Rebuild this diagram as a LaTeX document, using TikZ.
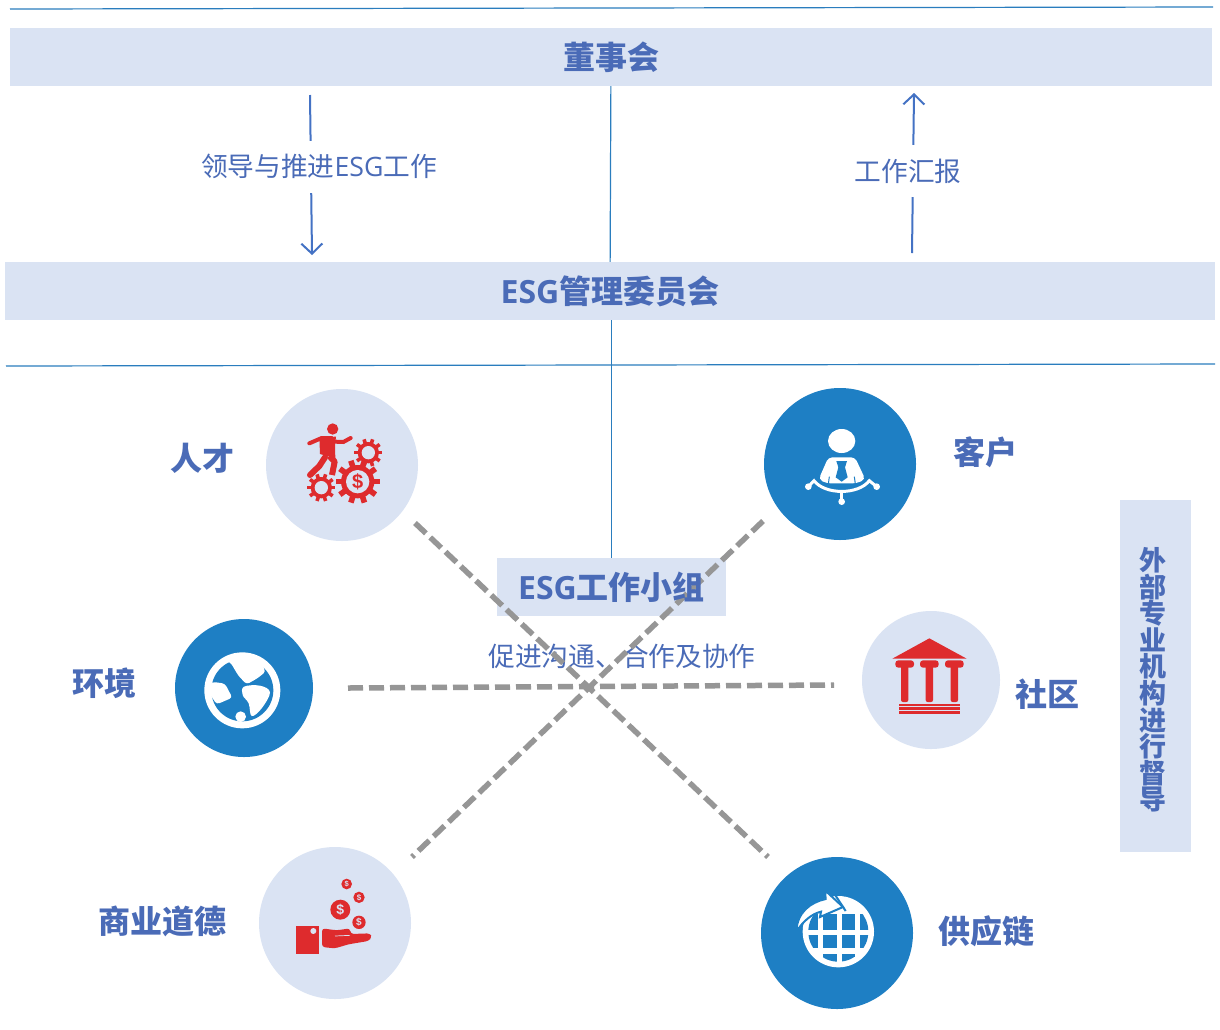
\documentclass[tikz,border=0pt]{standalone}
\usepackage{fontspec}
\usetikzlibrary{arrows.meta}
\newfontfamily\cjk{Noto Sans CJK SC}
\newfontfamily\lat{Open Sans}
\newfontfamily\icn{Liberation Sans}
\definecolor{pale}{HTML}{DAE3F3}
\definecolor{ink}{HTML}{4A6BB7}
\definecolor{disc}{HTML}{1E7FC4}
\definecolor{redi}{HTML}{DE2B2D}
\definecolor{rule}{HTML}{2A7DBE}
\definecolor{arrowc}{HTML}{4472C4}
\definecolor{dashc}{HTML}{969696}
\newcommand{\lt}[1]{{\lat #1}}
\newcommand{\gear}[6]{% x y outer body hole colour-of-hole
  \foreach \a in {0,36,...,324}{
    \draw[redi,line width=#3*0.085pt] ({#1+#3*0.7*cos(\a)},{#2+#3*0.7*sin(\a)}) -- ({#1+#3*cos(\a)},{#2+#3*sin(\a)});
  }
  \fill[redi] (#1,#2) circle[radius=#4];
  \fill[#6] (#1,#2) circle[radius=#5];
}
\tikzset{
  band/.style={fill=pale,inner sep=0pt,text=ink,font=\cjk\bfseries\fontsize{32}{32}\selectfont},
  bigt/.style={inner sep=0pt,text=ink,font=\cjk\bfseries\fontsize{32}{32}\selectfont},
  thin label/.style={fill=white,inner sep=0pt,text=ink,font=\cjk\fontsize{26.7}{27}\selectfont},
  note/.style={inner sep=0pt,text=ink,font=\cjk\fontsize{26.7}{27}\selectfont},
  lightdisc/.style={circle,fill=pale,inner sep=0pt},
  bluedisc/.style={circle,fill=disc,inner sep=0pt},
  hair/.style={rule,line width=1.2pt},
  flow/.style={arrowc,line width=2pt,-{Straight Barb[length=10pt,width=21pt,line width=2pt]}},
  crossing/.style={dashc,line width=5.5pt,dash pattern=on 15pt off 6pt},
  zoomed/.style={x=0.33333pt,y=-0.33333pt}
}
\begin{document}
\begin{tikzpicture}[x=1pt,y=-1pt]
\useasboundingbox (0,0) rectangle (1220,1029);
\fill[white] (0,0) rectangle (1220,1029);

% rules
\coordinate (r1a) at (10,9); \coordinate (r1b) at (1213,7);
\coordinate (r2a) at (6,366); \coordinate (r2b) at (1215,364);
\draw[hair] (r1a) -- (r1b);
\draw[hair] (r2a) -- (r2b);

% bands
\node[band,minimum width=1202pt,minimum height=58pt] (board) at (611,57) {董事会};
\node[band,minimum width=1210pt,minimum height=58pt] (committee) at (610,291) {\lt{ESG}管理委员会};
\fill[pale] (497,558) rectangle (726,616);
\node[inner sep=0pt,minimum width=229pt,minimum height=58pt] (group) at (611.5,587) {};
\fill[pale] (1120,500) rectangle (1191,852);
\node[inner sep=0pt,text=ink,align=center,font=\cjk\bfseries\fontsize{27}{26.6}\selectfont] (ext) at (1153,680)
 {外\\部\\专\\业\\机\\构\\进\\行\\督\\导};

% vertical links
\draw[hair] (board) -- (committee);
\draw[hair] (committee.south -| group.north) -- (group.north);

% arrows with labels
\coordinate (a1s) at (310,95); \coordinate (a1e) at (312,255);
\coordinate (a2s) at (912,253); \coordinate (a2e) at (914,93);
\draw[flow] (a1s) -- (a1e);
\draw[flow] (a2s) -- (a2e);
\node[thin label,minimum height=52pt] (lead) at (319,166.5) {领导与推进\lt{ESG}工作};
\node[thin label,minimum height=52pt] (report) at (908,171) {工作汇报};

% centre label
\node[note] (promote) at (622,656) {促进沟通、合作及协作};

% crossing dashed lines
\coordinate (c1a) at (415,523); \coordinate (c1b) at (768,857);
\coordinate (c2a) at (763,521); \coordinate (c2b) at (412,857);
\coordinate (c3a) at (348,688); \coordinate (c3b) at (834,685);
\draw[crossing] (c1a) -- (c1b);
\draw[crossing] (c2a) -- (c2b);
\draw[crossing] (c3a) -- (c3b);
\node[bigt] (grouplabel) at (group) {\lt{ESG}工作小组};

% discs
\node[lightdisc,minimum size=152pt] (talent) at (342,465) {};
\node[bluedisc,minimum size=152pt] (client) at (840,464) {};
\node[bluedisc,minimum size=138pt] (envir) at (244,688) {};
\node[lightdisc,minimum size=138pt] (commu) at (931,680) {};
\node[lightdisc,minimum size=152pt] (ethic) at (335,923) {};
\node[bluedisc,minimum size=152pt] (chain) at (837,933) {};

% labels
\node[bigt] (l1) at (202,458) {人才};
\node[bigt] (l2) at (985,452) {客户};
\node[bigt] (l3) at (104,683) {环境};
\node[bigt] (l4) at (1047,694) {社区};
\node[bigt] (l5) at (162,921) {商业道德};
\node[bigt] (l6) at (986,931) {供应链};

% talent icon
\begin{scope}[shift={(260,380)},zoomed]
  \gear{325}{218}{42}{32}{20}{pale}
  \gear{184}{323}{42}{32}{20}{pale}
  \gear{293}{305}{66}{50}{35}{pale}
  \node[text=redi,inner sep=0pt,font=\icn\bfseries\fontsize{20}{20}\selectfont] (dollar1) at (293,305) {\$};
  \fill[redi] (218,147) circle[radius=17];
  \draw[redi,line width=4pt,line cap=round,line join=round] (148,190) -- (185,174) -- (215,174);
  \draw[redi,line width=4pt,line cap=round,line join=round] (225,185) -- (250,186) -- (272,174);
  \fill[redi] (178,172) -- (228,170) -- (225,195) -- (226,235) -- (180,222) -- cycle;
  \draw[redi,line width=6pt,line cap=round,line join=round] (195,232) -- (178,258) -- (150,285);
  \draw[redi,line width=6pt,line join=round] (208,228) -- (224,245) -- (216,285);
\end{scope}

% client icon
\begin{scope}[shift={(760,380)},zoomed]
  \fill[white] (245,183) ellipse[x radius=41,y radius=36];
  \fill[white,rounded corners=4pt] (176,298) -- (205,232) -- (285,232) -- (316,298) -- (290,310) -- (200,310) -- cycle;
  \fill[disc] (229,243) -- (261,243) -- (255,262) -- (263,292) -- (245,305) -- (227,292) -- (235,262) -- cycle;
  \draw[disc,line width=1pt] (208,290) -- (205,312);
  \draw[disc,line width=1pt] (283,290) -- (286,312);
  \draw[white,line width=3pt] (145,320) -- (162,302) .. controls (195,345) and (295,345) .. (328,302) -- (350,320);
  \draw[white,line width=2.5pt] (245,332) -- (245,365);
  \fill[white] (145,320) circle[radius=10];
  \fill[white] (350,320) circle[radius=10];
  \fill[white] (245,365) circle[radius=10];
\end{scope}

% environment icon
\begin{scope}[shift={(170,615)},zoomed]
  \fill[white] (217,226) circle[radius=114];
  \fill[disc] (217,226) circle[radius=93];
  \fill[white,rounded corners=3pt] (182,143) -- (205,182) -- (230,208) -- (262,190) -- (287,170) -- (270,135) -- (217,122) -- (165,135) -- cycle;
  \fill[white,rounded corners=3pt] (132,201) -- (165,206) -- (187,248) -- (140,268) -- (118,235) -- (120,205) -- cycle;
  \fill[white] plot[smooth cycle,tension=0.6] coordinates {(222,215) (270,212) (300,232) (275,280) (245,303) (236,265) (218,240)};
  \fill[white] (212,305) circle[radius=16];
\end{scope}

% community icon
\begin{scope}[shift={(860,610)},zoomed]
  \fill[redi] (97,146) -- (208,85) -- (320,146) -- cycle;
  \foreach \cx in {134,208,283}{
    \fill[redi,rounded corners=3pt] ({\cx-28},151) rectangle ({\cx+28},173);
    \fill[redi,rounded corners=2pt] ({\cx-11},165) rectangle ({\cx+11},276);
  }
  \fill[redi] (118,282) rectangle (300,289);
  \fill[redi] (118,292) rectangle (300,300);
  \fill[redi] (118,303) rectangle (300,311);
\end{scope}

% ethics icon
\begin{scope}[shift={(255,845)},zoomed]
  \fill[redi] (123,243) rectangle (192,328);
  \fill[pale] (175,258) circle[radius=9];
  \fill[redi,rounded corners=3pt] (201,250) -- (245,256) -- (285,250) -- (287,267) -- (345,265) -- (351,277) -- (340,288) -- (280,298) -- (240,310) -- (201,306) -- cycle;
  \draw[pale,line width=0.7pt] (240,273) -- (285,271);
  \foreach \cx/\cy/\cr/\fs in {256/194/30/14,275/117/16/7.5,312/157/17/8,312/232/20/10}{
    \fill[redi] (\cx,\cy) circle[radius=\cr];
    \node[text=pale,inner sep=0pt,font=\icn\bfseries\fontsize{\fs}{\fs}\selectfont] at (\cx,\cy) {\$};
  }
\end{scope}

% supply chain icon
\begin{scope}[shift={(755,855)},zoomed]
  \fill[white] (250,230) circle[radius=107];
  \begin{scope}
    \clip (250,230) circle[radius=90];
    \foreach \xa/\xb in {150/190,205/245,262/300,316/350}{
      \foreach \ya/\yb in {178/224,240/280,296/325}{
        \fill[disc] (\xa,\ya) rectangle (\xb,\yb);
      }
    }
  \end{scope}
  \fill[white,draw=disc,line width=2pt] (124,230) .. controls (126,172) and (166,142) .. (212,132) -- (210,106) -- (264,156) -- (195,186) -- (198,170) .. controls (172,176) and (146,196) .. (124,230) -- cycle;
  \draw[disc,line width=2pt] (238,116) -- (272,168);
\end{scope}
\end{tikzpicture}
\end{document}
